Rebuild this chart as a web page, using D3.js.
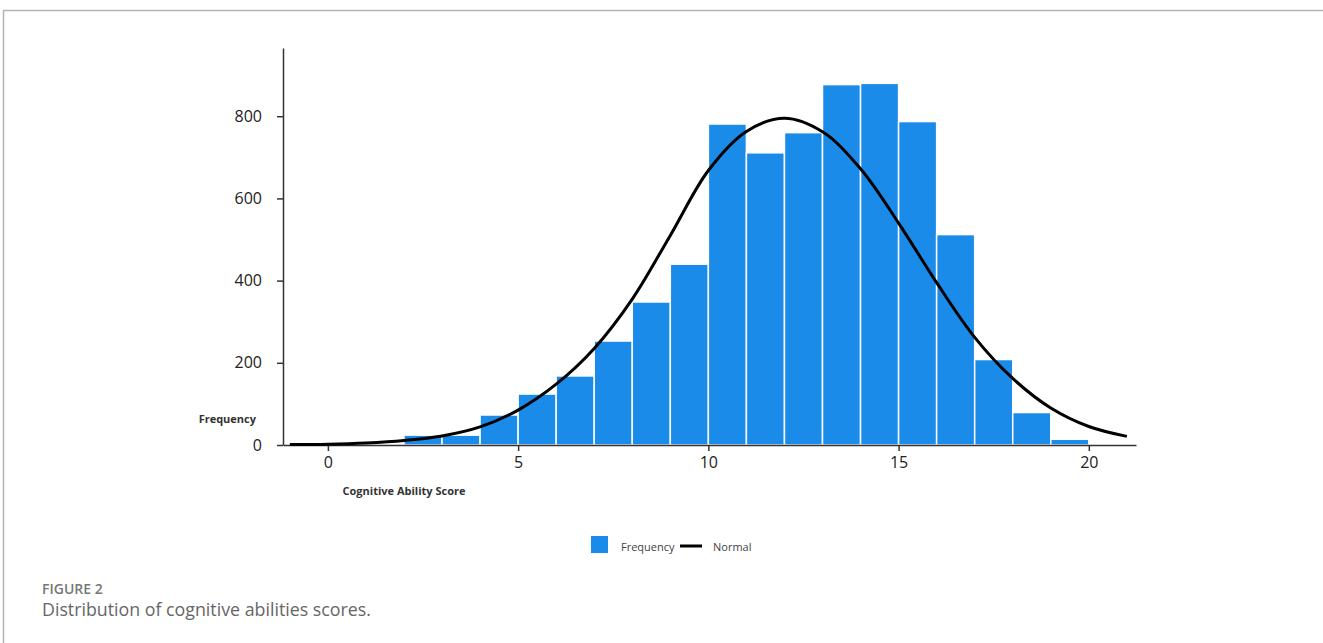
<!DOCTYPE html>
<html>
<head>
<meta charset="utf-8">
<script src="https://cdn.jsdelivr.net/npm/d3@7"></script>
<style>
  body { margin: 0; background: #fff; }
  svg { display: block; }
</style>
</head>
<body>
<div id="the_chart"></div>
<script>
// histogram bins (left edge of each bin, width 1)
var binStart = [2, 3, 4, 5, 6, 7, 8, 9, 10, 11, 12, 13, 14, 15, 16, 17, 18, 19];
var binCount = [24, 24, 73, 124, 168, 253, 348, 440, 781, 711, 760, 877, 880, 787, 512, 208, 79, 14];

// normal curve
var normX = [-1, 0, 1, 2, 3, 4, 5, 6, 7, 8, 9, 10, 11, 12, 13, 14, 15, 16, 17, 18, 19, 20, 21];
var normY = [1, 2, 5, 11, 22, 44, 85, 148, 235, 355, 510, 668, 763, 795, 762, 672, 540, 395, 262, 162, 90, 45, 21];

var xTicks = [0, 5, 10, 15, 20];
var yTicks = [0, 200, 400, 600, 800];

var legendItems = ["Frequency", "Normal"];

gen_chart();

function gen_chart() {
    var w = 1323;
    var h = 643;
    var blue = "#1b8be9";

    var svg = d3.select("#the_chart")
                .append("svg")
                .attr("width", w)
                .attr("height", h);

    // figure frame (top and left rule)
    svg.append("line")
        .attr("x1", 3).attr("x2", w).attr("y1", 10.5).attr("y2", 10.5)
        .attr("stroke", "#b4b4b4").attr("stroke-width", 1.5);
    svg.append("line")
        .attr("x1", 3.5).attr("x2", 3.5).attr("y1", 10).attr("y2", h)
        .attr("stroke", "#b4b4b4").attr("stroke-width", 1.5);

    var xscale = d3.scaleLinear()
                   .domain([-1.18, 21.24])
                   .range([283, 1136]);

    var hscale = d3.scaleLinear()
                   .domain([0, 966])
                   .range([445, 48]);

    // bars
    svg.selectAll("rect.bar")
        .data(binStart)
      .enter().append("rect")
        .attr("class", "bar")
        .attr("x", function(d) { return xscale(d); })
        .attr("width", function(d) { return xscale(d + 1) - xscale(d); })
        .attr("y", function(d, i) { return hscale(binCount[i]); })
        .attr("height", function(d, i) { return hscale(0) - hscale(binCount[i]); })
        .attr("fill", blue)
        .attr("stroke", "#fff")
        .attr("stroke-width", 1.5);

    // axes
    var xaxis = d3.axisBottom()
                  .scale(xscale)
                  .tickValues(xTicks)
                  .tickSize(6)
                  .tickSizeOuter(0)
                  .tickPadding(6);

    var yaxis = d3.axisLeft()
                  .scale(hscale)
                  .tickValues(yTicks)
                  .tickSize(6)
                  .tickSizeOuter(0)
                  .tickPadding(15);

    var gX = svg.append("g")
        .attr("transform", "translate(0,445)")
        .call(xaxis);

    var gY = svg.append("g")
        .attr("transform", "translate(283,0)")
        .call(yaxis);

    [gX, gY].forEach(function(g) {
        g.select(".domain").attr("stroke", "#333").attr("stroke-width", 1.5);
        g.selectAll(".tick line").attr("stroke", "#333").attr("stroke-width", 1.5);
        g.selectAll(".tick text")
            .attr("fill", "#222")
            .style("font-family", "'Open Sans', sans-serif")
            .style("font-size", "16px");
    });

    // normal curve
    var line = d3.line()
        .x(function(d, i) { return xscale(normX[i]); })
        .y(function(d) { return hscale(d); })
        .curve(d3.curveCatmullRom.alpha(0.5));

    svg.append("path")
        .datum(normY)
        .attr("d", line)
        .attr("fill", "none")
        .attr("stroke", "#000")
        .attr("stroke-width", 3);

    // axis titles
    svg.append("text")
        .attr("x", 256).attr("y", 423)
        .attr("text-anchor", "end")
        .attr("fill", "#333")
        .style("font-family", "'Open Sans', sans-serif")
        .style("font-size", "11px")
        .style("font-weight", "bold")
        .text("Frequency");

    svg.append("text")
        .attr("x", 404).attr("y", 495)
        .attr("text-anchor", "middle")
        .attr("fill", "#333")
        .style("font-family", "'Open Sans', sans-serif")
        .style("font-size", "11px")
        .style("font-weight", "bold")
        .text("Cognitive Ability Score");

    // legend
    var lg = svg.append("g");
    lg.append("rect")
        .attr("x", 591).attr("y", 536)
        .attr("width", 17).attr("height", 17)
        .attr("fill", blue);
    lg.append("text")
        .attr("x", 621).attr("y", 551)
        .attr("fill", "#444")
        .style("font-family", "'Open Sans', sans-serif")
        .style("font-size", "11px")
        .text(legendItems[0]);
    lg.append("line")
        .attr("x1", 680).attr("x2", 702).attr("y1", 546).attr("y2", 546)
        .attr("stroke", "#000").attr("stroke-width", 3);
    lg.append("text")
        .attr("x", 713).attr("y", 551)
        .attr("fill", "#444")
        .style("font-family", "'Open Sans', sans-serif")
        .style("font-size", "11px")
        .text(legendItems[1]);

    // caption
    svg.append("text")
        .attr("x", 42).attr("y", 594)
        .attr("fill", "#777")
        .style("font-family", "'Open Sans', sans-serif")
        .style("font-size", "14px")
        .style("font-weight", "600")
        .text("FIGURE 2");

    svg.append("text")
        .attr("x", 42).attr("y", 616)
        .attr("fill", "#666")
        .style("font-family", "'Open Sans', sans-serif")
        .style("font-size", "17.8px")
        .text("Distribution of cognitive abilities scores.");
}
</script>
</body>
</html>
